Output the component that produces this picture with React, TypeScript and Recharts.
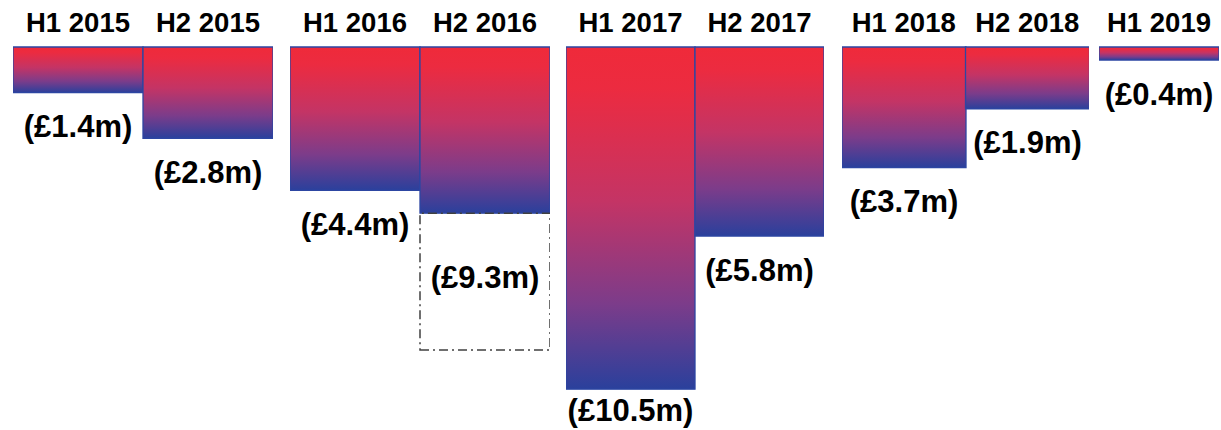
import { Bar, BarChart, LabelList, XAxis, YAxis } from "recharts";

// half-year periods and the losses shown under each bar (£m)
const periods = [
  "H1 2015", "H2 2015",
  "H1 2016", "H2 2016",
  "H1 2017", "H2 2017",
  "H1 2018", "H2 2018",
  "H1 2019",
];
const losses = [1.4, 2.8, 4.4, 9.3, 10.5, 5.8, 3.7, 1.9, 0.4];
// part of each loss drawn as a solid bar (H2 2016 only partly solid)
const solidLosses = [1.4, 2.8, 4.4, 5.1, 10.5, 5.8, 3.7, 1.9, 0.4];
const years = ["2015", "2016", "2017", "2018", "2019"];

// layout of the year groups
const groupLeft = [13, 290, 566, 842, 1099];
const groupWidth = [260, 260, 258, 247, 120];
const CHART_H = 430;

const FONT = "'Liberation Sans', Arial, Helvetica, sans-serif";
const OUTLINE = "#2d46a2";

const rows = periods.map((period, i) => {
  const pending = +(losses[i] - solidLosses[i]).toFixed(1);
  const text = `(£${losses[i].toFixed(1)}m)`;
  return {
    period,
    year: period.slice(3),
    solid: solidLosses[i],
    pending,
    belowLabel: pending > 0 ? "" : text,
    boxLabel: pending > 0 ? text : "",
  };
});

const TopTick = ({ x, y, payload }: any) => (
  <text
    x={x}
    y={y}
    textAnchor="middle"
    fontFamily={FONT}
    fontWeight={700}
    fontSize={27.5}
    fill="#000"
  >
    {payload.value}
  </text>
);

const BelowLabel = ({ x, y, width, height, value }: any) => {
  if (!value) return null;
  const bottom = Math.max(y, y + height);
  // keep the label inside the picture for the deepest bar
  const cy = Math.min(bottom + 34, CHART_H - 20);
  return (
    <text
      x={x + width / 2}
      y={cy}
      textAnchor="middle"
      dominantBaseline="central"
      fontFamily={FONT}
      fontWeight={700}
      fontSize={31}
      fill="#000"
    >
      {value}
    </text>
  );
};

const BoxLabel = ({ x, y, width, height, value }: any) => {
  if (!value) return null;
  return (
    <text
      x={x + width / 2}
      y={y + height / 2 - 4}
      textAnchor="middle"
      dominantBaseline="central"
      fontFamily={FONT}
      fontWeight={700}
      fontSize={31}
      fill="#000"
    >
      {value}
    </text>
  );
};

const YearGroup = ({ idx }: { idx: number }) => {
  const data = rows.filter((r) => r.year === years[idx]);
  const gid = `lossGrad${years[idx]}`;
  return (
    <div style={{ position: "absolute", left: groupLeft[idx], top: 0 }}>
      <BarChart
        width={groupWidth[idx]}
        height={CHART_H}
        data={data}
        margin={{ top: 0, right: 0, bottom: 31, left: 0 }}
        barCategoryGap={0}
        style={{ overflow: "visible" }}
      >
        <defs>
          <linearGradient id={gid} x1="0" y1="0" x2="0" y2="1">
            <stop offset="0%" stopColor="#ef2a3a" />
            <stop offset="12%" stopColor="#ec2b40" />
            <stop offset="45%" stopColor="#c43465" />
            <stop offset="75%" stopColor="#7c3c8a" />
            <stop offset="100%" stopColor="#2a409c" />
          </linearGradient>
        </defs>
        <XAxis
          dataKey="period"
          orientation="top"
          height={47}
          axisLine={false}
          tickLine={false}
          tickSize={0}
          tickMargin={15}
          interval={0}
          tick={<TopTick />}
        />
        <YAxis type="number" domain={[0, 10.8]} reversed hide />
        <Bar
          dataKey="solid"
          stackId="loss"
          fill={`url(#${gid})`}
          stroke={OUTLINE}
          strokeWidth={1.3}
          isAnimationActive={false}
        >
          <LabelList dataKey="belowLabel" content={<BelowLabel />} />
        </Bar>
        <Bar
          dataKey="pending"
          stackId="loss"
          fill="none"
          stroke="#404040"
          strokeWidth={1.5}
          strokeDasharray="9 4 2 4"
          isAnimationActive={false}
        >
          <LabelList dataKey="boxLabel" content={<BoxLabel />} />
        </Bar>
      </BarChart>
    </div>
  );
};

export default function App() {
  return (
    <div
      style={{
        position: "absolute",
        left: 0,
        top: 0,
        width: 1221,
        height: CHART_H,
        background: "#fff",
        overflow: "hidden",
      }}
    >
      {years.map((y, i) => (
        <YearGroup key={y} idx={i} />
      ))}
    </div>
  );
}
